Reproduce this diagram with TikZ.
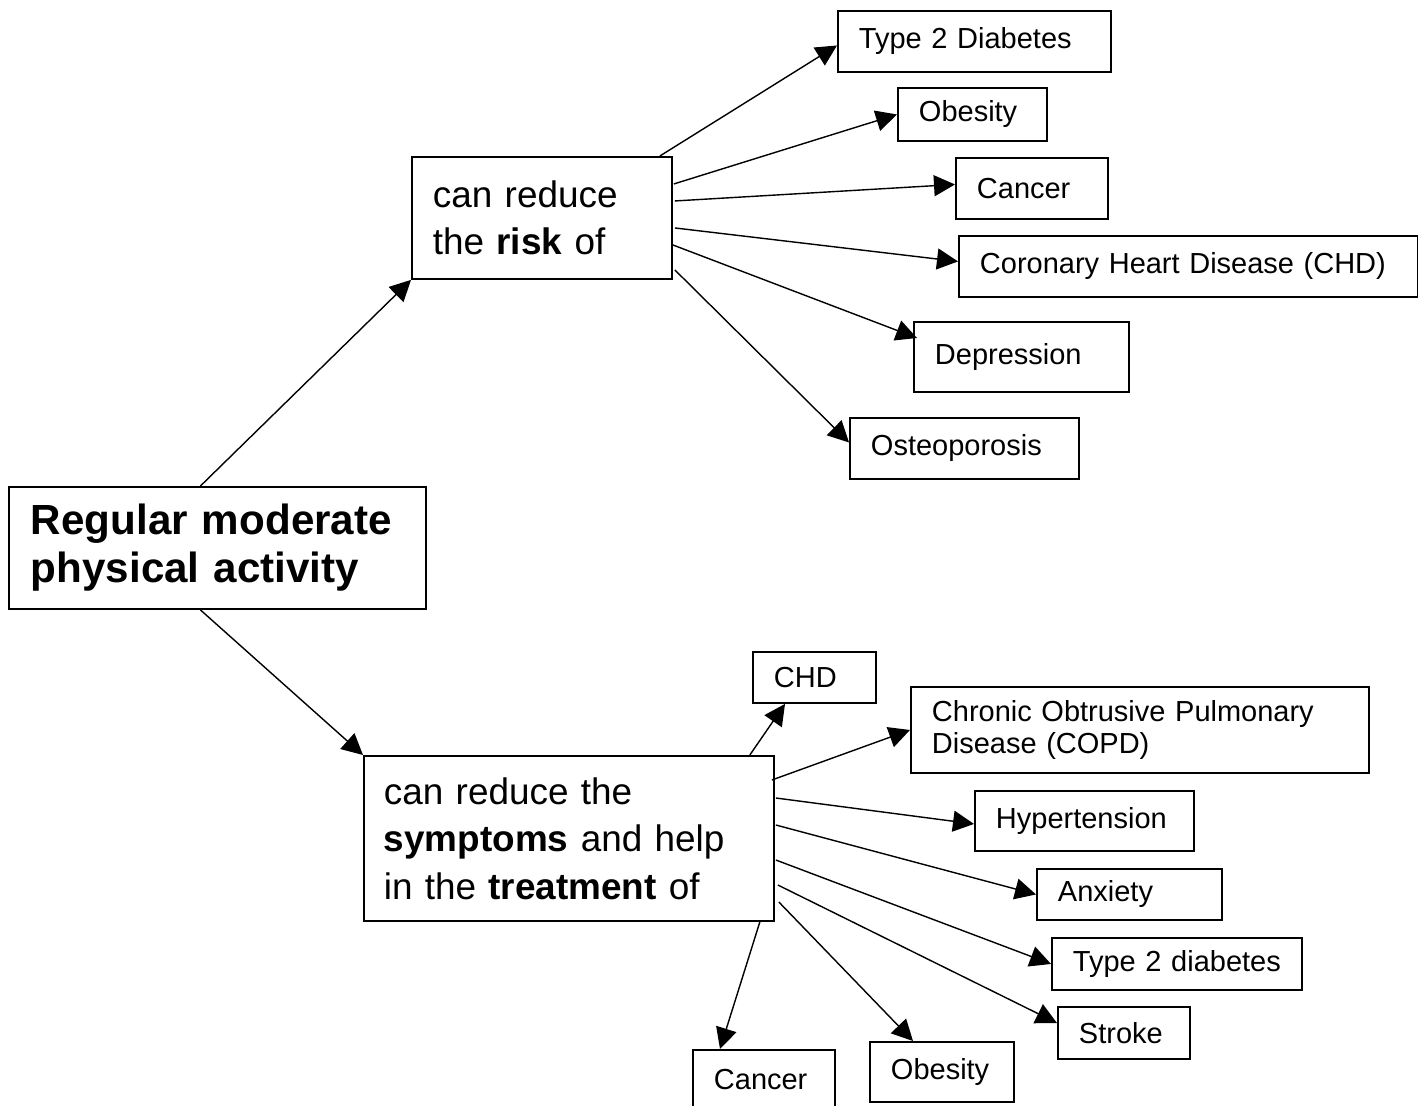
\documentclass[tikz,border=0pt]{standalone}
\usepackage{fontspec}
\setmainfont{Liberation Sans}
\usepackage{tikz}
\usetikzlibrary{positioning,arrows.meta,calc}
\hyphenpenalty=10000
\exhyphenpenalty=10000

\begin{document}
\begin{tikzpicture}[x=0.02cm, y=-0.02cm,
    disease/.style={rectangle, draw, line width=1.1pt, anchor=north west,
        inner xsep=0.42cm, inner ysep=0pt, align=left,
        font=\fontsize{16.5pt}{19pt}\selectfont},
    phrase/.style={rectangle, draw, line width=1.1pt, anchor=north west,
        inner xsep=0.42cm, inner ysep=0pt, align=left,
        font=\fontsize{21pt}{27pt}\selectfont},
    core/.style={phrase, inner xsep=0.44cm, font=\fontsize{24pt}{27.2pt}\selectfont\bfseries},
    arr/.style={-{Triangle[length=0.42cm, width=0.42cm]}, line width=0.8pt},
]
\useasboundingbox (0,0) rectangle (1418,1106);

\node[core, text width=7.46cm, minimum height=2.44cm] (act) at (8,486) {Regular moderate\\physical activity};
\node[phrase, text width=4.36cm, minimum height=2.44cm] (risk) at (411,156) {can reduce\\the \textbf{risk} of};
\node[phrase, text width=7.4cm, inner xsep=0.4cm, minimum height=3.3cm] (sym) at (363,755) {can reduce the\\\textbf{symptoms} and help\\in the \textbf{treatment} of};

\node[disease, text width=4.62cm, minimum height=1.22cm] (diab) at (837,10) {Type 2 Diabetes};
\node[disease, text width=2.14cm, minimum height=1.06cm] (obes) at (897,87) {Obesity};
\node[disease, text width=2.2cm, minimum height=1.22cm] (canc) at (955,157) {Cancer};
\node[disease, text width=8.34cm, minimum height=1.22cm] (chd) at (958,235) {Coronary Heart Disease (CHD)};
\node[disease, text width=3.46cm, minimum height=1.4cm] (depr) at (913,321) {Depression};
\node[disease, text width=3.74cm, minimum height=1.22cm] (oste) at (849,417) {Osteoporosis};

\node[disease, text width=1.62cm, minimum height=1.02cm] (chdb) at (752,651) {CHD};
\node[disease, text width=8.32cm, minimum height=1.72cm, font=\fontsize{16.5pt}{18.7pt}\selectfont] (copd) at (910,686) {Chronic Obtrusive Pulmonary\\Disease (COPD)};
\node[disease, text width=3.54cm, minimum height=1.2cm] (hype) at (974,790) {Hypertension};
\node[disease, text width=2.86cm, minimum height=1.02cm] (anxi) at (1036,868) {Anxiety};
\node[disease, text width=4.16cm, minimum height=1.04cm] (diabb) at (1051,937) {Type 2 diabetes};
\node[disease, text width=1.8cm, minimum height=1.04cm] (strk) at (1057,1006) {Stroke};
\node[disease, text width=2.0cm, minimum height=1.2cm] (cancb) at (692,1049) {Cancer};
\node[disease, text width=2.04cm, minimum height=1.2cm] (obesb) at (869,1041) {Obesity};

\draw[arr] ($(act.north)+(-17,0)$) -- (risk.south west);
\draw[arr] ($(act.south)+(-17,0)$) -- (sym.north west);

\draw[arr] ($(risk.north east)+(-13,0)$) -- ($(diab.west)+(0,4)$);
\draw[arr] ($(risk.east)+(1,-34)$) -- (obes.west);
\draw[arr] ($(risk.east)+(2,-17)$) -- ($(canc.west)+(0,-4)$);
\draw[arr] ($(risk.east)+(2,10)$) -- ($(chd.west)+(0,-5)$);
\draw[arr] ($(risk.east)+(0,27)$) -- ($(depr.north west)+(4,17)$);
\draw[arr] ($(risk.east)+(2,52)$) -- ($(oste.west)+(0,-6)$);

\draw[arr] ($(sym.north east)+(-25,0)$) -- ($(chdb.south west)+(33,0)$);
\draw[arr] ($(sym.north east)+(-3,25)$) -- (copd.west);
\draw[arr] ($(sym.north east)+(1,43)$) -- ($(hype.west)+(0,3)$);
\draw[arr] ($(sym.north east)+(1,70)$) -- (anxi.west);
\draw[arr] ($(sym.north east)+(1,105)$) -- (diabb.west);
\draw[arr] ($(sym.north east)+(3,130)$) -- ($(strk.north west)+(0,17)$);
\draw[arr] ($(sym.north east)+(4,147)$) -- ($(obesb.north west)+(44,0)$);
\draw[arr] ($(sym.south east)+(-15,0)$) -- ($(cancb.north west)+(28,0)$);
\end{tikzpicture}
\end{document}
